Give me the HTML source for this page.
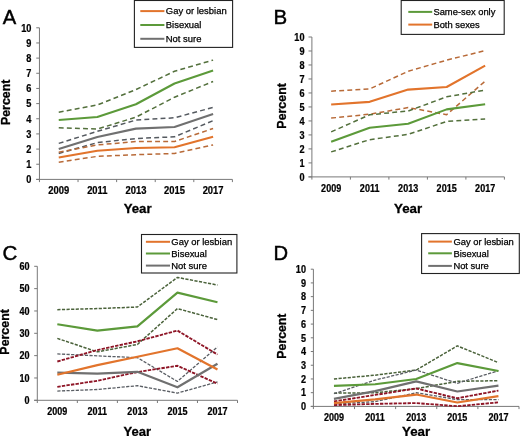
<!DOCTYPE html>
<html><head><meta charset="utf-8"><style>
html,body{margin:0;padding:0;background:#fff;}
body{width:520px;height:436px;overflow:hidden;}
svg{display:block;font-family:"Liberation Sans", sans-serif;will-change:transform;}
text{fill:#000;}
</style></head><body>
<svg width="520" height="436" viewBox="0 0 520 436">
<rect width="520" height="436" fill="#fff"/>
<g><line x1="36.25" y1="179.4" x2="39.45" y2="179.4" stroke="#787878" stroke-width="1"/>
<text transform="translate(31.5,183.2) scale(0.96,1.1)" font-size="9.6" font-weight="bold" text-anchor="end" stroke="#000" stroke-width="0.22">0</text>
<line x1="36.25" y1="164.24" x2="39.45" y2="164.24" stroke="#787878" stroke-width="1"/>
<text transform="translate(31.5,168.04) scale(0.96,1.1)" font-size="9.6" font-weight="bold" text-anchor="end" stroke="#000" stroke-width="0.22">1</text>
<line x1="36.25" y1="149.08" x2="39.45" y2="149.08" stroke="#787878" stroke-width="1"/>
<text transform="translate(31.5,152.88) scale(0.96,1.1)" font-size="9.6" font-weight="bold" text-anchor="end" stroke="#000" stroke-width="0.22">2</text>
<line x1="36.25" y1="133.92" x2="39.45" y2="133.92" stroke="#787878" stroke-width="1"/>
<text transform="translate(31.5,137.72) scale(0.96,1.1)" font-size="9.6" font-weight="bold" text-anchor="end" stroke="#000" stroke-width="0.22">3</text>
<line x1="36.25" y1="118.76" x2="39.45" y2="118.76" stroke="#787878" stroke-width="1"/>
<text transform="translate(31.5,122.56) scale(0.96,1.1)" font-size="9.6" font-weight="bold" text-anchor="end" stroke="#000" stroke-width="0.22">4</text>
<line x1="36.25" y1="103.6" x2="39.45" y2="103.6" stroke="#787878" stroke-width="1"/>
<text transform="translate(31.5,107.4) scale(0.96,1.1)" font-size="9.6" font-weight="bold" text-anchor="end" stroke="#000" stroke-width="0.22">5</text>
<line x1="36.25" y1="88.44" x2="39.45" y2="88.44" stroke="#787878" stroke-width="1"/>
<text transform="translate(31.5,92.24) scale(0.96,1.1)" font-size="9.6" font-weight="bold" text-anchor="end" stroke="#000" stroke-width="0.22">6</text>
<line x1="36.25" y1="73.28" x2="39.45" y2="73.28" stroke="#787878" stroke-width="1"/>
<text transform="translate(31.5,77.08) scale(0.96,1.1)" font-size="9.6" font-weight="bold" text-anchor="end" stroke="#000" stroke-width="0.22">7</text>
<line x1="36.25" y1="58.12" x2="39.45" y2="58.12" stroke="#787878" stroke-width="1"/>
<text transform="translate(31.5,61.92) scale(0.96,1.1)" font-size="9.6" font-weight="bold" text-anchor="end" stroke="#000" stroke-width="0.22">8</text>
<line x1="36.25" y1="42.96" x2="39.45" y2="42.96" stroke="#787878" stroke-width="1"/>
<text transform="translate(31.5,46.76) scale(0.96,1.1)" font-size="9.6" font-weight="bold" text-anchor="end" stroke="#000" stroke-width="0.22">9</text>
<line x1="36.25" y1="27.8" x2="39.45" y2="27.8" stroke="#787878" stroke-width="1"/>
<text transform="translate(31.5,31.6) scale(0.96,1.1)" font-size="9.6" font-weight="bold" text-anchor="end" stroke="#000" stroke-width="0.22">10</text>
<line x1="39.45" y1="27.8" x2="39.45" y2="182.1" stroke="#787878" stroke-width="1"/>
<line x1="36.25" y1="179.4" x2="232.4" y2="179.4" stroke="#787878" stroke-width="1"/>
<line x1="78.04" y1="179.4" x2="78.04" y2="182.1" stroke="#787878" stroke-width="1"/>
<line x1="116.63" y1="179.4" x2="116.63" y2="182.1" stroke="#787878" stroke-width="1"/>
<line x1="155.22" y1="179.4" x2="155.22" y2="182.1" stroke="#787878" stroke-width="1"/>
<line x1="193.81" y1="179.4" x2="193.81" y2="182.1" stroke="#787878" stroke-width="1"/>
<line x1="232.4" y1="179.4" x2="232.4" y2="182.1" stroke="#787878" stroke-width="1"/>
<text transform="translate(58.75,194.2) scale(0.96,1.1)" font-size="9.8" font-weight="bold" text-anchor="middle" stroke="#000" stroke-width="0.22">2009</text>
<text transform="translate(97.33,194.2) scale(0.96,1.1)" font-size="9.8" font-weight="bold" text-anchor="middle" stroke="#000" stroke-width="0.22">2011</text>
<text transform="translate(135.93,194.2) scale(0.96,1.1)" font-size="9.8" font-weight="bold" text-anchor="middle" stroke="#000" stroke-width="0.22">2013</text>
<text transform="translate(174.51,194.2) scale(0.96,1.1)" font-size="9.8" font-weight="bold" text-anchor="middle" stroke="#000" stroke-width="0.22">2015</text>
<text transform="translate(213.1,194.2) scale(0.96,1.1)" font-size="9.8" font-weight="bold" text-anchor="middle" stroke="#000" stroke-width="0.22">2017</text>
<polyline points="58.75,112.14 97.33,104.97 135.93,89.57 174.51,71.27 213.1,60.13" fill="none" stroke="#53703C" stroke-width="1.5" stroke-dasharray="4.9 3.2" stroke-linejoin="round"/>
<polyline points="58.75,127.84 97.33,129.06 135.93,117.17 174.51,97.19 213.1,81.48" fill="none" stroke="#53703C" stroke-width="1.5" stroke-dasharray="4.9 3.2" stroke-linejoin="round"/>
<polyline points="58.75,143.4 97.33,131.35 135.93,120.07 174.51,117.78 213.1,107.41" fill="none" stroke="#555A60" stroke-width="1.5" stroke-dasharray="4.9 3.2" stroke-linejoin="round"/>
<polyline points="58.75,153.47 97.33,142.64 135.93,138.52 174.51,136.84 213.1,120.68" fill="none" stroke="#555A60" stroke-width="1.5" stroke-dasharray="4.9 3.2" stroke-linejoin="round"/>
<polyline points="58.75,152.25 97.33,144.93 135.93,141.57 174.51,141.57 213.1,128.45" fill="none" stroke="#B86A38" stroke-width="1.5" stroke-dasharray="4.9 3.2" stroke-linejoin="round"/>
<polyline points="58.75,162.31 97.33,156.36 135.93,154.69 174.51,153.47 213.1,144.93" fill="none" stroke="#B86A38" stroke-width="1.5" stroke-dasharray="4.9 3.2" stroke-linejoin="round"/>
<polyline points="58.75,157.43 97.33,150.72 135.93,147.97 174.51,147.21 213.1,136.84" fill="none" stroke="#E2742C" stroke-width="2.1" stroke-linejoin="round"/>
<polyline points="58.75,149.04 97.33,137 135.93,128.61 174.51,126.93 213.1,114.12" fill="none" stroke="#707070" stroke-width="2.1" stroke-linejoin="round"/>
<polyline points="58.75,120.07 97.33,117.02 135.93,104.21 174.51,83.47 213.1,70.51" fill="none" stroke="#5C9A3A" stroke-width="2.1" stroke-linejoin="round"/>
<text x="137.6" y="213.1" font-size="13.2" font-weight="bold" text-anchor="middle" stroke="#000" stroke-width="0.3">Year</text>
<text transform="translate(9.6,102.3) rotate(-90)" x="0" y="0" font-size="12.4" font-weight="bold" text-anchor="middle" stroke="#000" stroke-width="0.3">Percent</text>
<text x="2.77" y="23.9" font-size="20.2" stroke="#000" stroke-width="0.45">A</text>
<rect x="134.4" y="0.5" width="98.2" height="46.9" fill="#fff" stroke="#222" stroke-width="1.1"/>
<line x1="140.3" y1="11.1" x2="164.4" y2="11.1" stroke="#E2742C" stroke-width="2"/>
<text x="165.8" y="14.41" font-size="9.45" stroke="#000" stroke-width="0.25">Gay or lesbian</text>
<line x1="140.3" y1="25" x2="164.4" y2="25" stroke="#5C9A3A" stroke-width="2"/>
<text x="165.8" y="28.31" font-size="9.45" stroke="#000" stroke-width="0.25">Bisexual</text>
<line x1="140.3" y1="38.8" x2="164.4" y2="38.8" stroke="#707070" stroke-width="2"/>
<text x="165.8" y="42.11" font-size="9.45" stroke="#000" stroke-width="0.25">Not sure</text></g>
<g><line x1="308.5" y1="176.9" x2="311.9" y2="176.9" stroke="#787878" stroke-width="1"/>
<text transform="translate(304.5,180.66) scale(0.96,1.1)" font-size="9.5" font-weight="bold" text-anchor="end" stroke="#000" stroke-width="0.22">0</text>
<line x1="308.5" y1="162.91" x2="311.9" y2="162.91" stroke="#787878" stroke-width="1"/>
<text transform="translate(304.5,166.67) scale(0.96,1.1)" font-size="9.5" font-weight="bold" text-anchor="end" stroke="#000" stroke-width="0.22">1</text>
<line x1="308.5" y1="148.92" x2="311.9" y2="148.92" stroke="#787878" stroke-width="1"/>
<text transform="translate(304.5,152.68) scale(0.96,1.1)" font-size="9.5" font-weight="bold" text-anchor="end" stroke="#000" stroke-width="0.22">2</text>
<line x1="308.5" y1="134.93" x2="311.9" y2="134.93" stroke="#787878" stroke-width="1"/>
<text transform="translate(304.5,138.69) scale(0.96,1.1)" font-size="9.5" font-weight="bold" text-anchor="end" stroke="#000" stroke-width="0.22">3</text>
<line x1="308.5" y1="120.94" x2="311.9" y2="120.94" stroke="#787878" stroke-width="1"/>
<text transform="translate(304.5,124.7) scale(0.96,1.1)" font-size="9.5" font-weight="bold" text-anchor="end" stroke="#000" stroke-width="0.22">4</text>
<line x1="308.5" y1="106.95" x2="311.9" y2="106.95" stroke="#787878" stroke-width="1"/>
<text transform="translate(304.5,110.71) scale(0.96,1.1)" font-size="9.5" font-weight="bold" text-anchor="end" stroke="#000" stroke-width="0.22">5</text>
<line x1="308.5" y1="92.96" x2="311.9" y2="92.96" stroke="#787878" stroke-width="1"/>
<text transform="translate(304.5,96.72) scale(0.96,1.1)" font-size="9.5" font-weight="bold" text-anchor="end" stroke="#000" stroke-width="0.22">6</text>
<line x1="308.5" y1="78.97" x2="311.9" y2="78.97" stroke="#787878" stroke-width="1"/>
<text transform="translate(304.5,82.73) scale(0.96,1.1)" font-size="9.5" font-weight="bold" text-anchor="end" stroke="#000" stroke-width="0.22">7</text>
<line x1="308.5" y1="64.98" x2="311.9" y2="64.98" stroke="#787878" stroke-width="1"/>
<text transform="translate(304.5,68.74) scale(0.96,1.1)" font-size="9.5" font-weight="bold" text-anchor="end" stroke="#000" stroke-width="0.22">8</text>
<line x1="308.5" y1="50.99" x2="311.9" y2="50.99" stroke="#787878" stroke-width="1"/>
<text transform="translate(304.5,54.75) scale(0.96,1.1)" font-size="9.5" font-weight="bold" text-anchor="end" stroke="#000" stroke-width="0.22">9</text>
<line x1="308.5" y1="37" x2="311.9" y2="37" stroke="#787878" stroke-width="1"/>
<text transform="translate(304.5,40.76) scale(0.96,1.1)" font-size="9.5" font-weight="bold" text-anchor="end" stroke="#000" stroke-width="0.22">10</text>
<line x1="311.9" y1="37" x2="311.9" y2="179.6" stroke="#787878" stroke-width="1"/>
<line x1="308.5" y1="176.9" x2="504.4" y2="176.9" stroke="#787878" stroke-width="1"/>
<line x1="350.4" y1="176.9" x2="350.4" y2="179.6" stroke="#787878" stroke-width="1"/>
<line x1="388.9" y1="176.9" x2="388.9" y2="179.6" stroke="#787878" stroke-width="1"/>
<line x1="427.4" y1="176.9" x2="427.4" y2="179.6" stroke="#787878" stroke-width="1"/>
<line x1="465.9" y1="176.9" x2="465.9" y2="179.6" stroke="#787878" stroke-width="1"/>
<line x1="504.4" y1="176.9" x2="504.4" y2="179.6" stroke="#787878" stroke-width="1"/>
<text transform="translate(331.15,191.7) scale(0.96,1.1)" font-size="9.4" font-weight="bold" text-anchor="middle" stroke="#000" stroke-width="0.22">2009</text>
<text transform="translate(369.65,191.7) scale(0.96,1.1)" font-size="9.4" font-weight="bold" text-anchor="middle" stroke="#000" stroke-width="0.22">2011</text>
<text transform="translate(408.15,191.7) scale(0.96,1.1)" font-size="9.4" font-weight="bold" text-anchor="middle" stroke="#000" stroke-width="0.22">2013</text>
<text transform="translate(446.65,191.7) scale(0.96,1.1)" font-size="9.4" font-weight="bold" text-anchor="middle" stroke="#000" stroke-width="0.22">2015</text>
<text transform="translate(485.15,191.7) scale(0.96,1.1)" font-size="9.4" font-weight="bold" text-anchor="middle" stroke="#000" stroke-width="0.22">2017</text>
<polyline points="331.15,91.15 369.65,88.93 408.15,71.28 446.65,60.16 485.15,50.57" fill="none" stroke="#B86A38" stroke-width="1.5" stroke-dasharray="4.9 3.2" stroke-linejoin="round"/>
<polyline points="331.15,118.12 369.65,114.23 408.15,107.56 446.65,114.64 485.15,81.15" fill="none" stroke="#B86A38" stroke-width="1.5" stroke-dasharray="4.9 3.2" stroke-linejoin="round"/>
<polyline points="331.15,131.88 369.65,114.78 408.15,111.03 446.65,96.85 485.15,90.04" fill="none" stroke="#53703C" stroke-width="1.5" stroke-dasharray="4.9 3.2" stroke-linejoin="round"/>
<polyline points="331.15,151.9 369.65,139.66 408.15,134.38 446.65,121.46 485.15,118.95" fill="none" stroke="#53703C" stroke-width="1.5" stroke-dasharray="4.9 3.2" stroke-linejoin="round"/>
<polyline points="331.15,104.5 369.65,101.86 408.15,89.62 446.65,86.98 485.15,65.58" fill="none" stroke="#E2742C" stroke-width="2.1" stroke-linejoin="round"/>
<polyline points="331.15,141.75 369.65,127.71 408.15,123.82 446.65,109.36 485.15,104.22" fill="none" stroke="#5C9A3A" stroke-width="2.1" stroke-linejoin="round"/>
<text x="408.1" y="213.2" font-size="13.3" font-weight="bold" text-anchor="middle" stroke="#000" stroke-width="0.3">Year</text>
<text transform="translate(286.4,105.9) rotate(-90)" x="0" y="0" font-size="12.4" font-weight="bold" text-anchor="middle" stroke="#000" stroke-width="0.3">Percent</text>
<text x="273.4" y="23.9" font-size="20.5" stroke="#000" stroke-width="0.45">B</text>
<rect x="401.2" y="0.5" width="103" height="33.9" fill="#fff" stroke="#222" stroke-width="1.1"/>
<line x1="408.3" y1="11.9" x2="432.2" y2="11.9" stroke="#5C9A3A" stroke-width="2"/>
<text x="433.4" y="15.19" font-size="9.4" stroke="#000" stroke-width="0.25">Same-sex only</text>
<line x1="408.3" y1="24.6" x2="432.2" y2="24.6" stroke="#E2742C" stroke-width="2"/>
<text x="433.4" y="27.89" font-size="9.4" stroke="#000" stroke-width="0.25">Both sexes</text></g>
<g><line x1="34.2" y1="400.3" x2="37.3" y2="400.3" stroke="#787878" stroke-width="1"/>
<text transform="translate(29.5,404.02) scale(0.96,1.1)" font-size="9.4" font-weight="bold" text-anchor="end" stroke="#000" stroke-width="0.22">0</text>
<line x1="34.2" y1="377.97" x2="37.3" y2="377.97" stroke="#787878" stroke-width="1"/>
<text transform="translate(29.5,381.69) scale(0.96,1.1)" font-size="9.4" font-weight="bold" text-anchor="end" stroke="#000" stroke-width="0.22">10</text>
<line x1="34.2" y1="355.63" x2="37.3" y2="355.63" stroke="#787878" stroke-width="1"/>
<text transform="translate(29.5,359.36) scale(0.96,1.1)" font-size="9.4" font-weight="bold" text-anchor="end" stroke="#000" stroke-width="0.22">20</text>
<line x1="34.2" y1="333.3" x2="37.3" y2="333.3" stroke="#787878" stroke-width="1"/>
<text transform="translate(29.5,337.02) scale(0.96,1.1)" font-size="9.4" font-weight="bold" text-anchor="end" stroke="#000" stroke-width="0.22">30</text>
<line x1="34.2" y1="310.97" x2="37.3" y2="310.97" stroke="#787878" stroke-width="1"/>
<text transform="translate(29.5,314.69) scale(0.96,1.1)" font-size="9.4" font-weight="bold" text-anchor="end" stroke="#000" stroke-width="0.22">40</text>
<line x1="34.2" y1="288.63" x2="37.3" y2="288.63" stroke="#787878" stroke-width="1"/>
<text transform="translate(29.5,292.36) scale(0.96,1.1)" font-size="9.4" font-weight="bold" text-anchor="end" stroke="#000" stroke-width="0.22">50</text>
<line x1="34.2" y1="266.3" x2="37.3" y2="266.3" stroke="#787878" stroke-width="1"/>
<text transform="translate(29.5,270.02) scale(0.96,1.1)" font-size="9.4" font-weight="bold" text-anchor="end" stroke="#000" stroke-width="0.22">60</text>
<line x1="37.3" y1="266.3" x2="37.3" y2="403" stroke="#787878" stroke-width="1"/>
<line x1="34.2" y1="400.3" x2="237.5" y2="400.3" stroke="#787878" stroke-width="1"/>
<line x1="77.34" y1="400.3" x2="77.34" y2="403" stroke="#787878" stroke-width="1"/>
<line x1="117.38" y1="400.3" x2="117.38" y2="403" stroke="#787878" stroke-width="1"/>
<line x1="157.42" y1="400.3" x2="157.42" y2="403" stroke="#787878" stroke-width="1"/>
<line x1="197.46" y1="400.3" x2="197.46" y2="403" stroke="#787878" stroke-width="1"/>
<line x1="237.5" y1="400.3" x2="237.5" y2="403" stroke="#787878" stroke-width="1"/>
<text transform="translate(57.32,415.2) scale(0.96,1.1)" font-size="9.4" font-weight="bold" text-anchor="middle" stroke="#000" stroke-width="0.22">2009</text>
<text transform="translate(97.36,415.2) scale(0.96,1.1)" font-size="9.4" font-weight="bold" text-anchor="middle" stroke="#000" stroke-width="0.22">2011</text>
<text transform="translate(137.4,415.2) scale(0.96,1.1)" font-size="9.4" font-weight="bold" text-anchor="middle" stroke="#000" stroke-width="0.22">2013</text>
<text transform="translate(177.44,415.2) scale(0.96,1.1)" font-size="9.4" font-weight="bold" text-anchor="middle" stroke="#000" stroke-width="0.22">2015</text>
<text transform="translate(217.48,415.2) scale(0.96,1.1)" font-size="9.4" font-weight="bold" text-anchor="middle" stroke="#000" stroke-width="0.22">2017</text>
<polyline points="57.32,309.7 97.36,308.58 137.4,307.01 177.44,277.41 217.48,285.04" fill="none" stroke="#4A623A" stroke-width="1.5" stroke-dasharray="3.2 1.4" stroke-linejoin="round"/>
<polyline points="57.32,338.4 97.36,351.85 137.4,344.45 177.44,308.58 217.48,319.56" fill="none" stroke="#4A623A" stroke-width="1.5" stroke-dasharray="3.2 1.4" stroke-linejoin="round"/>
<polyline points="57.32,353.87 97.36,355.88 137.4,357.68 177.44,381.44 217.48,346.92" fill="none" stroke="#5A5E64" stroke-width="1.3" stroke-dasharray="3.2 1.4" stroke-linejoin="round"/>
<polyline points="57.32,391.08 97.36,389.51 137.4,385.7 177.44,393.1 217.48,381.89" fill="none" stroke="#5A5E64" stroke-width="1.3" stroke-dasharray="3.2 1.4" stroke-linejoin="round"/>
<polyline points="57.32,361.49 97.36,350.06 137.4,341.31 177.44,330.55 217.48,354.54" fill="none" stroke="#8E1526" stroke-width="1.85" stroke-dasharray="3.4 1.2" stroke-linejoin="round"/>
<polyline points="57.32,386.82 97.36,380.77 137.4,372.03 177.44,365.75 217.48,383.69" fill="none" stroke="#8E1526" stroke-width="1.85" stroke-dasharray="3.4 1.2" stroke-linejoin="round"/>
<polyline points="57.32,372.7 97.36,373.6 137.4,371.8 177.44,387.27 217.48,363.73" fill="none" stroke="#707070" stroke-width="2.2" stroke-linejoin="round"/>
<polyline points="57.32,374.72 97.36,365.08 137.4,356.78 177.44,348.26 217.48,369.56" fill="none" stroke="#E2742C" stroke-width="2.2" stroke-linejoin="round"/>
<polyline points="57.32,324.27 97.36,330.55 137.4,326.29 177.44,292.66 217.48,302.3" fill="none" stroke="#5C9A3A" stroke-width="2.2" stroke-linejoin="round"/>
<text x="137.3" y="435.5" font-size="13.0" font-weight="bold" text-anchor="middle" stroke="#000" stroke-width="0.3">Year</text>
<text transform="translate(8.6,331.9) rotate(-90)" x="0" y="0" font-size="12.4" font-weight="bold" text-anchor="middle" stroke="#000" stroke-width="0.3">Percent</text>
<text x="2.5" y="260.3" font-size="20.5" stroke="#000" stroke-width="0.45">C</text>
<rect x="141.5" y="234.5" width="95.4" height="38.5" fill="#fff" stroke="#222" stroke-width="1.1"/>
<line x1="145.9" y1="241.8" x2="170" y2="241.8" stroke="#E2742C" stroke-width="2"/>
<text x="171.3" y="245.11" font-size="9.45" stroke="#000" stroke-width="0.25">Gay or lesbian</text>
<line x1="145.9" y1="253.5" x2="170" y2="253.5" stroke="#5C9A3A" stroke-width="2"/>
<text x="171.3" y="256.81" font-size="9.45" stroke="#000" stroke-width="0.25">Bisexual</text>
<line x1="145.9" y1="265.6" x2="170" y2="265.6" stroke="#707070" stroke-width="2"/>
<text x="171.3" y="268.91" font-size="9.45" stroke="#000" stroke-width="0.25">Not sure</text></g>
<g><line x1="310.8" y1="406.4" x2="313.4" y2="406.4" stroke="#787878" stroke-width="1"/>
<text transform="translate(306,410.16) scale(0.96,1.1)" font-size="9.5" font-weight="bold" text-anchor="end" stroke="#000" stroke-width="0.22">0</text>
<line x1="310.8" y1="392.68" x2="313.4" y2="392.68" stroke="#787878" stroke-width="1"/>
<text transform="translate(306,396.44) scale(0.96,1.1)" font-size="9.5" font-weight="bold" text-anchor="end" stroke="#000" stroke-width="0.22">1</text>
<line x1="310.8" y1="378.96" x2="313.4" y2="378.96" stroke="#787878" stroke-width="1"/>
<text transform="translate(306,382.72) scale(0.96,1.1)" font-size="9.5" font-weight="bold" text-anchor="end" stroke="#000" stroke-width="0.22">2</text>
<line x1="310.8" y1="365.24" x2="313.4" y2="365.24" stroke="#787878" stroke-width="1"/>
<text transform="translate(306,369) scale(0.96,1.1)" font-size="9.5" font-weight="bold" text-anchor="end" stroke="#000" stroke-width="0.22">3</text>
<line x1="310.8" y1="351.52" x2="313.4" y2="351.52" stroke="#787878" stroke-width="1"/>
<text transform="translate(306,355.28) scale(0.96,1.1)" font-size="9.5" font-weight="bold" text-anchor="end" stroke="#000" stroke-width="0.22">4</text>
<line x1="310.8" y1="337.8" x2="313.4" y2="337.8" stroke="#787878" stroke-width="1"/>
<text transform="translate(306,341.56) scale(0.96,1.1)" font-size="9.5" font-weight="bold" text-anchor="end" stroke="#000" stroke-width="0.22">5</text>
<line x1="310.8" y1="324.08" x2="313.4" y2="324.08" stroke="#787878" stroke-width="1"/>
<text transform="translate(306,327.84) scale(0.96,1.1)" font-size="9.5" font-weight="bold" text-anchor="end" stroke="#000" stroke-width="0.22">6</text>
<line x1="310.8" y1="310.36" x2="313.4" y2="310.36" stroke="#787878" stroke-width="1"/>
<text transform="translate(306,314.12) scale(0.96,1.1)" font-size="9.5" font-weight="bold" text-anchor="end" stroke="#000" stroke-width="0.22">7</text>
<line x1="310.8" y1="296.64" x2="313.4" y2="296.64" stroke="#787878" stroke-width="1"/>
<text transform="translate(306,300.4) scale(0.96,1.1)" font-size="9.5" font-weight="bold" text-anchor="end" stroke="#000" stroke-width="0.22">8</text>
<line x1="310.8" y1="282.92" x2="313.4" y2="282.92" stroke="#787878" stroke-width="1"/>
<text transform="translate(306,286.68) scale(0.96,1.1)" font-size="9.5" font-weight="bold" text-anchor="end" stroke="#000" stroke-width="0.22">9</text>
<line x1="310.8" y1="269.2" x2="313.4" y2="269.2" stroke="#787878" stroke-width="1"/>
<text transform="translate(306,272.96) scale(0.96,1.1)" font-size="9.5" font-weight="bold" text-anchor="end" stroke="#000" stroke-width="0.22">10</text>
<line x1="313.4" y1="269.2" x2="313.4" y2="409.1" stroke="#787878" stroke-width="1"/>
<line x1="310.8" y1="406.4" x2="519" y2="406.4" stroke="#787878" stroke-width="1"/>
<line x1="354.52" y1="406.4" x2="354.52" y2="409.1" stroke="#787878" stroke-width="1"/>
<line x1="395.64" y1="406.4" x2="395.64" y2="409.1" stroke="#787878" stroke-width="1"/>
<line x1="436.76" y1="406.4" x2="436.76" y2="409.1" stroke="#787878" stroke-width="1"/>
<line x1="477.88" y1="406.4" x2="477.88" y2="409.1" stroke="#787878" stroke-width="1"/>
<line x1="519" y1="406.4" x2="519" y2="409.1" stroke="#787878" stroke-width="1"/>
<text transform="translate(333.96,420.8) scale(0.96,1.1)" font-size="9.4" font-weight="bold" text-anchor="middle" stroke="#000" stroke-width="0.22">2009</text>
<text transform="translate(375.08,420.8) scale(0.96,1.1)" font-size="9.4" font-weight="bold" text-anchor="middle" stroke="#000" stroke-width="0.22">2011</text>
<text transform="translate(416.2,420.8) scale(0.96,1.1)" font-size="9.4" font-weight="bold" text-anchor="middle" stroke="#000" stroke-width="0.22">2013</text>
<text transform="translate(457.32,420.8) scale(0.96,1.1)" font-size="9.4" font-weight="bold" text-anchor="middle" stroke="#000" stroke-width="0.22">2015</text>
<text transform="translate(498.44,420.8) scale(0.96,1.1)" font-size="9.4" font-weight="bold" text-anchor="middle" stroke="#000" stroke-width="0.22">2017</text>
<polyline points="333.96,379 375.08,375.15 416.2,370.06 457.32,345.86 498.44,362.64" fill="none" stroke="#4A623A" stroke-width="1.5" stroke-dasharray="3.2 1.4" stroke-linejoin="round"/>
<polyline points="333.96,393.16 375.08,392.75 416.2,388.62 457.32,381.34 498.44,380.65" fill="none" stroke="#4A623A" stroke-width="1.5" stroke-dasharray="3.2 1.4" stroke-linejoin="round"/>
<polyline points="333.96,393.71 375.08,380.1 416.2,370.06 457.32,383.26 498.44,370.75" fill="none" stroke="#5A5E64" stroke-width="1.3" stroke-dasharray="3.2 1.4" stroke-linejoin="round"/>
<polyline points="333.96,404.02 375.08,401.69 416.2,392.75 457.32,399.62 498.44,399.62" fill="none" stroke="#5A5E64" stroke-width="1.3" stroke-dasharray="3.2 1.4" stroke-linejoin="round"/>
<polyline points="333.96,401.41 375.08,394.95 416.2,388.49 457.32,398.25 498.44,390.55" fill="none" stroke="#8E1526" stroke-width="1.85" stroke-dasharray="3.4 1.2" stroke-linejoin="round"/>
<polyline points="333.96,405.12 375.08,403.89 416.2,403.06 457.32,406.23 498.44,402.38" fill="none" stroke="#8E1526" stroke-width="1.85" stroke-dasharray="3.4 1.2" stroke-linejoin="round"/>
<polyline points="333.96,403.06 375.08,399.35 416.2,394.54 457.32,402.51 498.44,396.05" fill="none" stroke="#E2742C" stroke-width="2.2" stroke-linejoin="round"/>
<polyline points="333.96,398.94 375.08,391.1 416.2,381.34 457.32,391.51 498.44,385.6" fill="none" stroke="#707070" stroke-width="2.2" stroke-linejoin="round"/>
<polyline points="333.96,385.88 375.08,384.23 416.2,379 457.32,363.05 498.44,371.02" fill="none" stroke="#5C9A3A" stroke-width="2.2" stroke-linejoin="round"/>
<text x="416.1" y="435.8" font-size="13.3" font-weight="bold" text-anchor="middle" stroke="#000" stroke-width="0.3">Year</text>
<text transform="translate(286.3,336.1) rotate(-90)" x="0" y="0" font-size="12.3" font-weight="bold" text-anchor="middle" stroke="#000" stroke-width="0.3">Percent</text>
<text x="273.6" y="259.8" font-size="20.2" stroke="#000" stroke-width="0.45">D</text>
<rect x="421.6" y="233.6" width="97.7" height="39.9" fill="#fff" stroke="#222" stroke-width="1.1"/>
<line x1="428.2" y1="241.6" x2="451.9" y2="241.6" stroke="#E2742C" stroke-width="2"/>
<text x="453.4" y="244.88" font-size="9.38" stroke="#000" stroke-width="0.25">Gay or lesbian</text>
<line x1="428.2" y1="253.3" x2="451.9" y2="253.3" stroke="#5C9A3A" stroke-width="2"/>
<text x="453.4" y="256.58" font-size="9.38" stroke="#000" stroke-width="0.25">Bisexual</text>
<line x1="428.2" y1="265.9" x2="451.9" y2="265.9" stroke="#707070" stroke-width="2"/>
<text x="453.4" y="269.18" font-size="9.38" stroke="#000" stroke-width="0.25">Not sure</text></g>
</svg>
</body></html>
